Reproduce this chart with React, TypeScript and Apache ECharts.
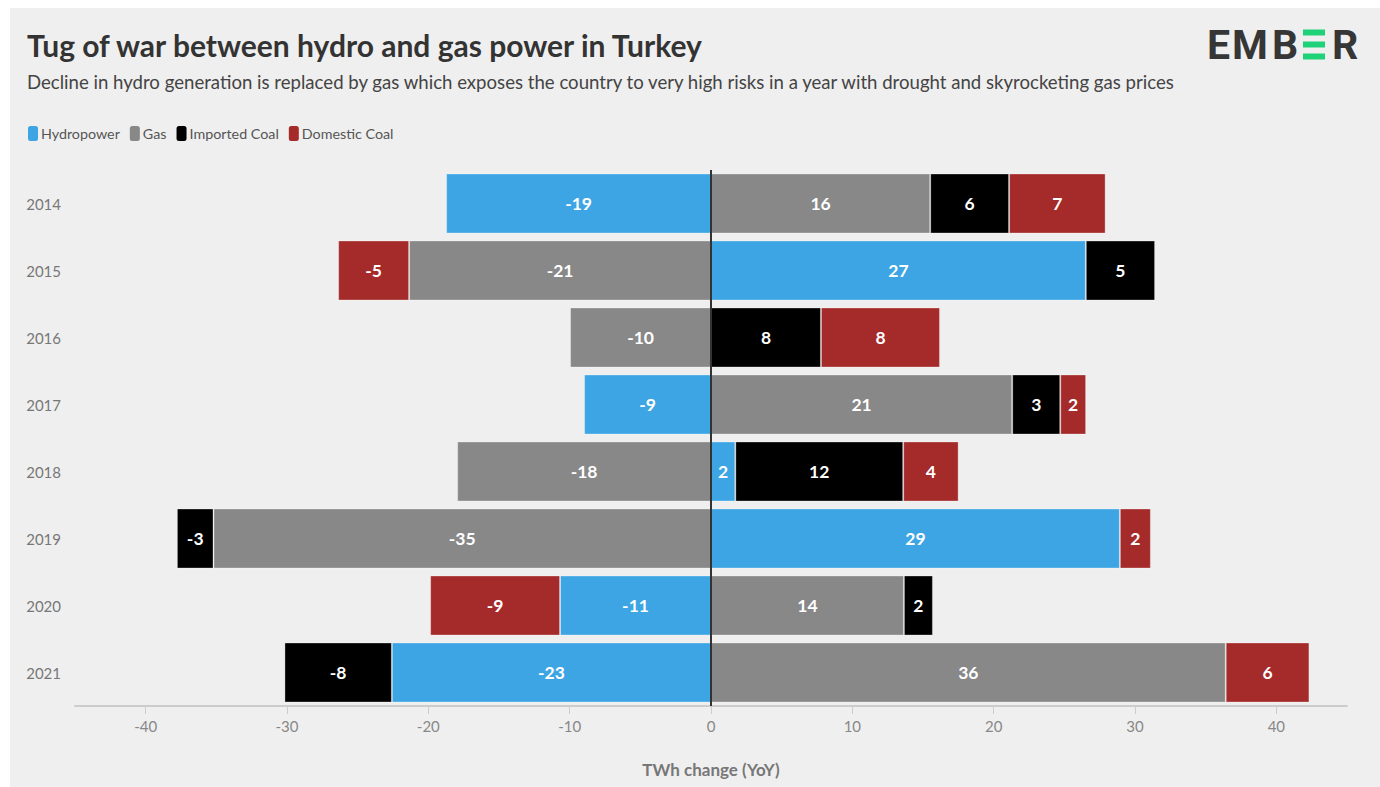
import React, { useEffect, useRef } from "react";
import * as echarts from "echarts";

const years = ["2014", "2015", "2016", "2017", "2018", "2019", "2020", "2021"];
const hydropower = [-18.74, 26.52, null, -8.98, 1.72, 28.93, -10.68, -22.58];
const gas = [15.51, -21.36, -9.97, 21.31, -17.96, -35.2, 13.65, 36.42];
const importedCoal = [5.58, 4.9, 7.78, 3.4, 11.88, -2.59, 2.05, -7.6];
const domesticCoal = [6.83, -5.02, 8.42, 1.83, 3.92, 2.19, -9.19, 5.92];
const xTicks = [-40, -30, -20, -10, 0, 10, 20, 30, 40];

const FONT = "Lato";

export default function App() {
  const ref = useRef<HTMLDivElement>(null);
  useEffect(() => {
    if (!ref.current) return;
    const chart = echarts.init(ref.current, undefined, { renderer: "svg" });
    const mk = (name: string, data: (number | null)[], color: string, extra: any = {}) => ({
      name,
      type: "bar",
      stack: "total",
      data: data.map((v) => (v === null ? "-" : v)),
      barWidth: 60,
      itemStyle: { color, borderColor: "rgba(255,255,255,0.3)", borderWidth: 1 },
      label: {
        show: true,
        position: "inside",
        color: "#fff",
        fontFamily: FONT,
        fontWeight: "bold",
        fontSize: 17.5,
        formatter: (p: any) => String(Math.round(p.value)),
      },
      emphasis: { disabled: true },
      ...extra,
    });
    chart.setOption({
      animation: false,
      backgroundColor: "#ffffff",
      textStyle: { fontFamily: FONT },
      graphic: [
        { type: "rect", z: -10, shape: { x: 10, y: 8, width: 1370, height: 779 }, style: { fill: "#efefef" } },
        {
          type: "text", x: 27, y: 45,
          style: { text: "Tug of war between hydro and gas power in Turkey", font: `bold 30px ${FONT}`, fill: "#333333", textVerticalAlign: "middle" },
        },
        {
          type: "text", x: 27, y: 82,
          style: { text: "Decline in hydro generation is replaced by gas which exposes the country to very high risks in a year with drought and skyrocketing gas prices", font: `18.6px ${FONT}`, fill: "#444444", textVerticalAlign: "middle" },
        },
        { type: "text", x: 1207, y: 45, style: { text: "E", font: "bold 41px Roboto", fill: "#363636", textVerticalAlign: "middle" } },
        { type: "text", x: 1232, y: 45, style: { text: "M", font: "bold 41px Roboto", fill: "#363636", textVerticalAlign: "middle" } },
        { type: "text", x: 1272, y: 45, style: { text: "B", font: "bold 41px Roboto", fill: "#363636", textVerticalAlign: "middle" } },
        { type: "rect", shape: { x: 1303, y: 29.5, width: 22, height: 6 }, style: { fill: "#1ed27a" } },
        { type: "rect", shape: { x: 1303, y: 41.5, width: 22, height: 6 }, style: { fill: "#1ed27a" } },
        { type: "rect", shape: { x: 1303, y: 53.5, width: 22, height: 6 }, style: { fill: "#1ed27a" } },
        { type: "text", x: 1332, y: 45, style: { text: "R", font: "bold 41px Roboto", fill: "#363636", textVerticalAlign: "middle" } },
      ],
      legend: {
        left: 23,
        top: 121,
        icon: "roundRect",
        itemWidth: 10,
        itemHeight: 15,
        itemGap: 10,
        textStyle: { color: "#555", fontSize: 14.3, fontFamily: FONT, padding: [0, 0, 0, -2] },
        itemStyle: { borderWidth: 0 },
        data: ["Hydropower", "Gas", "Imported Coal", "Domestic Coal"],
      },
      grid: { left: 75, right: 33, top: 170, bottom: 81 },
      xAxis: {
        type: "value",
        min: -45,
        max: 45,
        name: "TWh change (YoY)",
        nameLocation: "middle",
        nameGap: 55,
        nameTextStyle: { color: "#777", fontSize: 17, fontWeight: "bold", fontFamily: FONT },
        splitLine: { show: false },
        axisLine: { show: true, lineStyle: { color: "#cccccc", width: 2 } },
        axisTick: { show: true, customValues: xTicks, length: 8, lineStyle: { color: "#cccccc" } },
        axisLabel: { customValues: xTicks, color: "#888", fontSize: 15, margin: 12, fontFamily: FONT },
      },
      yAxis: {
        type: "category",
        data: years,
        inverse: true,
        axisLine: { show: true, lineStyle: { color: "#dddddd" } },
        axisTick: { show: true, alignWithLabel: true, length: 5, lineStyle: { color: "#dddddd" } },
        axisLabel: { color: "#777", fontSize: 15, margin: 14, fontFamily: FONT },
      },
      series: [
        mk("Hydropower", hydropower, "#3da5e4"),
        mk("Gas", gas, "#888888"),
        mk("Imported Coal", importedCoal, "#000000"),
        mk("Domestic Coal", domesticCoal, "#a52a2a", {
          markLine: {
            silent: true,
            symbol: ["none", "none"],
            label: { show: false },
            lineStyle: { color: "#333333", width: 2, type: "solid" },
            data: [{ xAxis: 0 }],
          },
        }),
      ],
    });
    return () => chart.dispose();
  }, []);
  return <div ref={ref} style={{ position: "absolute", left: 0, top: 0, width: 1380, height: 787 }} />;
}
